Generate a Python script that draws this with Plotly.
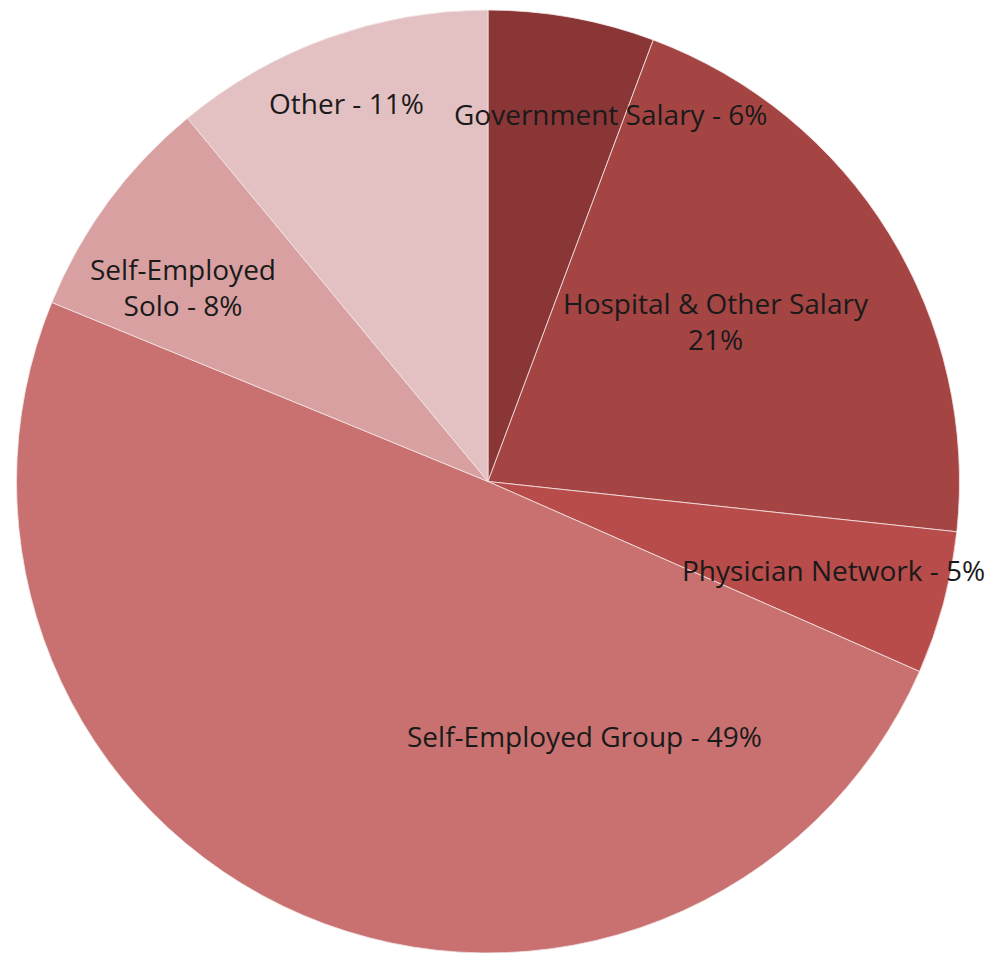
import plotly.graph_objects as go

# shares (clockwise from 12 o'clock)
labels = [
    "Government Salary",
    "Hospital & Other Salary",
    "Physician Network",
    "Self-Employed Group",
    "Self-Employed Solo",
    "Other",
]
values = [5.7, 21.0, 4.9, 49.6, 7.8, 11.0]
label_text = [
    "Government Salary - 6%",
    "Hospital & Other Salary<br>21%",
    "Physician Network - 5%",
    "Self-Employed Group - 49%",
    "Self-Employed<br>Solo - 8%",
    "Other - 11%",
]
colors = ["#8a3636", "#a44443", "#b84c4a", "#c87170", "#d8a0a0", "#e3c1c3"]

OFF = 8  # page body margin
W, H = 993 - OFF, 953 - OFF  # keep the figure inside the window, no scrollbars
# label centres in page pixels (x from left, y from top)
label_pos = [(610, 114), (716, 321), (833, 570), (584, 736), (183, 287), (346, 103)]

fig = go.Figure()
fig.add_trace(go.Pie(
    labels=labels,
    values=values,
    sort=False,
    direction="clockwise",
    rotation=0,
    marker=dict(colors=colors, line=dict(color="#f4e6e6", width=0.8)),
    textinfo="none",
    hoverinfo="label+percent",
    showlegend=False,
    domain=dict(x=[(16 - OFF) / W, (960 - OFF) / W],
                y=[0.0, (H - (10 - OFF)) / H]),
))

for txt, (px, py) in zip(label_text, label_pos):
    fig.add_annotation(
        x=(px - OFF) / W, y=1 - (py - OFF) / H, xref="paper", yref="paper",
        xanchor="center", yanchor="middle",
        text=txt, showarrow=False, align="center",
        font=dict(family="Open Sans", size=28, color="#1a1a1a"),
    )

fig.update_layout(
    width=W, height=H,
    margin=dict(l=0, r=0, t=0, b=0),
    paper_bgcolor="white",
    plot_bgcolor="white",
)

fig.write_html("out.html")
